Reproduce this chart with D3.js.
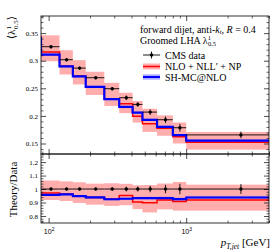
<!DOCTYPE html>
<html>
<head>
<meta charset="utf-8">
<script src="https://cdn.jsdelivr.net/npm/d3@7"></script>
<style>
  body { margin: 0; background: #fff; }
  svg { font-family: "Liberation Serif", "DejaVu Serif", serif; }
</style>
</head>
<body>
<div id="chart"></div>
<script>
// bin edges in GeV
const binEdges = [88, 120, 150, 186, 254, 326, 408, 481, 614, 800, 1000, 4000];

// CMS data, groomed LHA
const cmsData = [0.3254, 0.3018, 0.2866, 0.2692, 0.2493, 0.2330, 0.2208, 0.2069, 0.1931, 0.1786, 0.1656];
const cmsErr  = [0.003, 0.003, 0.003, 0.003, 0.003, 0.004, 0.004, 0.005, 0.006, 0.007, 0.006];

// NLO + NLL' + NP, central and band
const nloVals = [0.3156, 0.2906, 0.2723, 0.2525, 0.2309, 0.2220, 0.1996, 0.1860, 0.1775, 0.1622, 0.1522];
const nloLo   = [0.299, 0.275, 0.257, 0.238, 0.218, 0.205, 0.188, 0.171, 0.164, 0.150, 0.139];
const nloHi   = [0.346, 0.319, 0.301, 0.280, 0.260, 0.242, 0.227, 0.213, 0.201, 0.188, 0.171];

// SH-MC@NLO
const shVals = [0.3111, 0.2897, 0.2717, 0.2525, 0.2304, 0.2162, 0.2060, 0.1930, 0.1802, 0.1652, 0.1552];
const shErr  = [0.002, 0.002, 0.002, 0.002, 0.002, 0.002, 0.002, 0.002, 0.002, 0.002, 0.002];

// value of the bin just below the plotted range (only its step edge shows)
const nloBelow = 0.345;
const shBelow = 0.343;

const mainTicks = [0.15, 0.2, 0.25, 0.3, 0.35];
const ratioTicks = [0.8, 0.9, 1, 1.1, 1.2];
const xMajor = [100, 1000];
const xMinor = [90, 200, 300, 400, 500, 600, 700, 800, 900, 2000, 3000, 4000];

const width = 280, height = 250;
const pLeft = 41, pRight = 269, pTop = 16, pMid = 154, pBottom = 223;

const svg = d3.select("#chart").append("svg")
    .attr("width", width)
    .attr("height", height);

let x = d3.scaleLog().domain([88, 4000]).range([pLeft, pRight]);
let y = d3.scaleLinear().domain([0.131, 0.381]).range([pMid, pTop]);
let yr = d3.scaleLinear().domain([0.748, 1.26]).range([pBottom, pMid]);

let bins = cmsData.map((d, i) => ({
    lo: binEdges[i], hi: binEdges[i + 1], c: (binEdges[i] + binEdges[i + 1]) / 2,
    data: d, err: cmsErr[i],
    nlo: nloVals[i], nloLo: nloLo[i], nloHi: nloHi[i],
    sh: shVals[i], shErr: shErr[i]
}));

// clip paths
let defs = svg.append("defs");
defs.append("clipPath").attr("id", "clipMain").append("rect")
    .attr("x", pLeft).attr("y", pTop).attr("width", pRight - pLeft).attr("height", pMid - pTop);
defs.append("clipPath").attr("id", "clipRatio").append("rect")
    .attr("x", pLeft).attr("y", pMid).attr("width", pRight - pLeft).attr("height", pBottom - pMid);

function stepPoints(vals, below) {
    let pts = [];
    if (below !== null) pts.push([binEdges[0], below]);
    vals.forEach((v, i) => { pts.push([binEdges[i], v]); pts.push([binEdges[i + 1], v]); });
    return pts;
}

function drawPanel(g, yS, norm, below) {
    // red band
    g.selectAll(".nloband").data(bins).enter().append("rect")
        .attr("x", d => x(d.lo)).attr("width", d => x(d.hi) - x(d.lo))
        .attr("y", d => yS(d.nloHi / norm(d))).attr("height", d => yS(d.nloLo / norm(d)) - yS(d.nloHi / norm(d)))
        .attr("fill", "rgba(255,0,0,0.32)");
    // blue band
    g.selectAll(".shband").data(bins).enter().append("rect")
        .attr("x", d => x(d.lo)).attr("width", d => x(d.hi) - x(d.lo))
        .attr("y", d => yS((d.sh + d.shErr) / norm(d)))
        .attr("height", d => yS((d.sh - d.shErr) / norm(d)) - yS((d.sh + d.shErr) / norm(d)))
        .attr("fill", "rgba(80,80,255,0.35)");

    let line = d3.line().x(d => x(d[0])).y(d => yS(d[1]));
    let nloPts = stepPoints(bins.map(d => d.nlo / norm(d)), below ? nloBelow : null);
    let shPts = stepPoints(bins.map(d => d.sh / norm(d)), below ? shBelow : null);

    g.append("path").attr("d", line(nloPts))
        .attr("fill", "none").attr("stroke", "#ff0000").attr("stroke-width", 1.5);
    g.append("path").attr("d", line(shPts))
        .attr("fill", "none").attr("stroke", "#0000ff").attr("stroke-width", 2.2);

    // data
    let pts = g.selectAll(".pt").data(bins).enter().append("g");
    pts.append("line")
        .attr("x1", d => x(d.lo)).attr("x2", d => x(d.hi))
        .attr("y1", d => yS(d.data / norm(d))).attr("y2", d => yS(d.data / norm(d)))
        .attr("stroke", "#000").attr("stroke-width", 0.9);
    pts.append("line")
        .attr("x1", d => x(d.c)).attr("x2", d => x(d.c))
        .attr("y1", d => yS((d.data - d.err) / norm(d))).attr("y2", d => yS((d.data + d.err) / norm(d)))
        .attr("stroke", "#000").attr("stroke-width", 0.9);
    pts.append("circle")
        .attr("cx", d => x(d.c)).attr("cy", d => yS(d.data / norm(d)))
        .attr("r", 1.7).attr("fill", "#000");
}

let gMain = svg.append("g").attr("clip-path", "url(#clipMain)");
drawPanel(gMain, y, d => 1, true);
let gRatio = svg.append("g").attr("clip-path", "url(#clipRatio)");
drawPanel(gRatio, yr, d => d.data, false);

// axes: ticks inward on all sides
function addAxis(axis, tx, ty, major, minor, fmt) {
    let a = svg.append("g").attr("transform", `translate(${tx},${ty})`)
        .call(axis.tickValues(major).tickSize(-5).tickPadding(3).tickFormat(fmt));
    a.select(".domain").remove();
    a.selectAll("line").attr("stroke", "#000").attr("stroke-width", 0.7);
    a.selectAll("text").attr("font-size", 7).attr("font-family", "Liberation Serif, serif").attr("fill", "#000");
    let m = svg.append("g").attr("transform", `translate(${tx},${ty})`)
        .call(axis.tickValues(minor).tickSize(-2.5).tickFormat(""));
    m.select(".domain").remove();
    m.selectAll("line").attr("stroke", "#000").attr("stroke-width", 0.6);
    return a;
}

const fmt = d3.format("~g");
let mainMinor = d3.range(14, 39).map(d => d / 100).filter(d => !mainTicks.some(t => Math.abs(t - d) < 1e-6));
let ratioMinor = d3.range(38, 63).map(d => d / 50).filter(d => !ratioTicks.some(t => Math.abs(t - d) < 1e-6));

addAxis(d3.axisLeft(y), pLeft, 0, mainTicks, mainMinor, fmt);
addAxis(d3.axisRight(y), pRight, 0, mainTicks, mainMinor, "");
addAxis(d3.axisLeft(yr), pLeft, 0, ratioTicks, ratioMinor, fmt);
addAxis(d3.axisRight(yr), pRight, 0, ratioTicks, ratioMinor, "");
addAxis(d3.axisTop(x), 0, pTop, xMajor, xMinor, "");
addAxis(d3.axisBottom(x), 0, pMid, xMajor, xMinor, "");
addAxis(d3.axisTop(x), 0, pMid, xMajor, xMinor, "");
let xa = addAxis(d3.axisBottom(x), 0, pBottom, xMajor, xMinor, "");

// x tick labels 10^n
xa.selectAll(".tick").each(function(d) {
    let t = d3.select(this).append("text")
        .attr("y", 11).attr("text-anchor", "middle")
        .attr("font-size", 7).attr("fill", "#000");
    t.append("tspan").text("10");
    t.append("tspan").attr("font-size", 5).attr("dy", -3).text(Math.round(Math.log10(d)));
});

// frames
[[pTop, pMid], [pMid, pBottom]].forEach(p => {
    svg.append("rect").attr("x", pLeft).attr("y", p[0])
        .attr("width", pRight - pLeft).attr("height", p[1] - p[0])
        .attr("fill", "none").attr("stroke", "#000").attr("stroke-width", 0.8);
});

// y labels
let yl = svg.append("text").attr("transform", `translate(15,${pTop}) rotate(-90)`)
    .attr("text-anchor", "end").attr("font-size", 11).attr("fill", "#000");
yl.append("tspan").text("\u27E8\u03BB");
yl.append("tspan").attr("font-size", 7).attr("dy", -4).text("1");
yl.append("tspan").attr("font-size", 7).attr("dx", -3).attr("dy", 7).text("0.5");
yl.append("tspan").attr("dy", -3).text("\u27E9");

svg.append("text").attr("transform", `translate(17,${(pMid + pBottom) / 2 + 1}) rotate(-90)`)
    .attr("text-anchor", "middle").attr("font-size", 11).attr("fill", "#000")
    .text("Theory/Data");

// x label
let xl = svg.append("text").attr("x", pRight + 1).attr("y", 246)
    .attr("text-anchor", "end").attr("font-size", 11).attr("fill", "#000");
xl.append("tspan").attr("font-style", "italic").text("p");
xl.append("tspan").attr("font-size", 7.5).attr("dy", 2.5).attr("font-style", "italic").text("T,jet");
xl.append("tspan").attr("dy", -2.5).text(" [GeV]");

// title lines
let t1 = svg.append("text").attr("x", 140).attr("y", 32.5).attr("font-size", 10).attr("fill", "#000");
t1.append("tspan").text("forward dijet, anti-");
t1.append("tspan").attr("font-style", "italic").text("k");
t1.append("tspan").attr("font-style", "italic").attr("font-size", 6.5).attr("dy", 1.5).text("t");
t1.append("tspan").attr("dy", -1.5).text(", ");
t1.append("tspan").attr("font-style", "italic").text("R");
t1.append("tspan").text(" = 0.4");

let t2 = svg.append("text").attr("x", 140).attr("y", 43.5).attr("font-size", 10).attr("fill", "#000");
t2.append("tspan").text("Groomed LHA \u03BB");
t2.append("tspan").attr("font-size", 6.5).attr("dy", -3.5).text("1");
t2.append("tspan").attr("font-size", 6.5).attr("dx", -3).attr("dy", 6).text("0.5");

// legend
const legendLabels = ["CMS data", "NLO + NLL\u2032 + NP", "SH-MC@NLO"];
const legendY = [55, 66.5, 77];
let lg = svg.append("g");
// CMS
lg.append("line").attr("x1", 143).attr("x2", 160).attr("y1", legendY[0]).attr("y2", legendY[0])
    .attr("stroke", "#000").attr("stroke-width", 0.9);
lg.append("line").attr("x1", 151.5).attr("x2", 151.5).attr("y1", legendY[0] - 3.5).attr("y2", legendY[0] + 3.5)
    .attr("stroke", "#000").attr("stroke-width", 0.9);
lg.append("circle").attr("cx", 151.5).attr("cy", legendY[0]).attr("r", 1.7).attr("fill", "#000");
// NLO
lg.append("rect").attr("x", 143).attr("y", legendY[1] - 3).attr("width", 17).attr("height", 6)
    .attr("fill", "rgba(255,0,0,0.32)");
lg.append("line").attr("x1", 143).attr("x2", 160).attr("y1", legendY[1]).attr("y2", legendY[1])
    .attr("stroke", "#ff0000").attr("stroke-width", 1.5);
// SH
lg.append("rect").attr("x", 143).attr("y", legendY[2] - 3).attr("width", 17).attr("height", 6)
    .attr("fill", "rgba(80,80,255,0.35)");
lg.append("line").attr("x1", 143).attr("x2", 160).attr("y1", legendY[2]).attr("y2", legendY[2])
    .attr("stroke", "#0000ff").attr("stroke-width", 2.2);
legendLabels.forEach((l, i) => {
    lg.append("text").attr("x", 165).attr("y", legendY[i] + 3.5)
        .attr("font-size", 10).attr("fill", "#000").text(l);
});
</script>
</body>
</html>
